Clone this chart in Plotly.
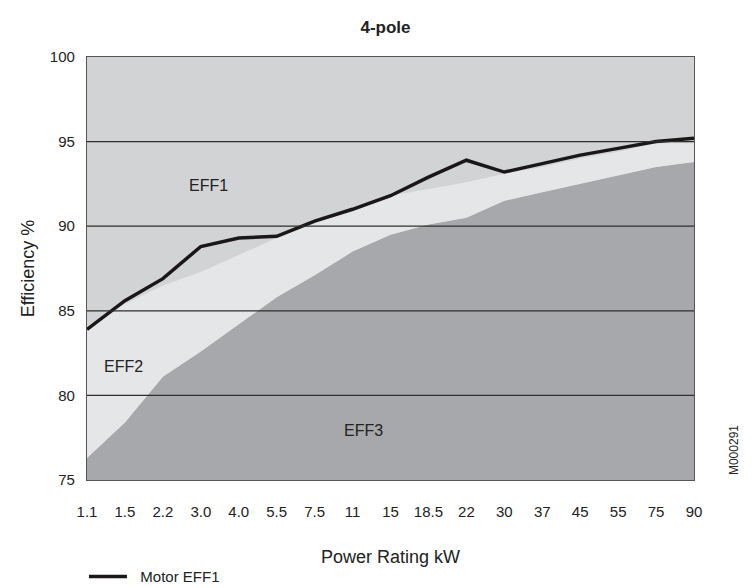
import plotly.graph_objects as go

# IE2-style efficiency bands, 4-pole motors
power_kw = ["1.1", "1.5", "2.2", "3.0", "4.0", "5.5", "7.5", "11", "15",
            "18.5", "22", "30", "37", "45", "55", "75", "90"]

# upper limit of EFF3 band (= lower limit of EFF2)
eff3_top = [76.3, 78.4, 81.1, 82.6, 84.2, 85.8, 87.1, 88.5, 89.5,
            90.1, 90.5, 91.5, 92.0, 92.5, 93.0, 93.5, 93.8]
# upper limit of EFF2 band (= lower limit of EFF1)
eff2_top = [84.1, 85.4, 86.5, 87.3, 88.3, 89.3, 90.2, 90.9, 91.8,
            92.2, 92.6, 93.1, 93.5, 94.0, 94.4, 94.9, 94.9]
# motor EFF1 curve
motor_eff1 = [83.9, 85.6, 86.9, 88.8, 89.3, 89.4, 90.3, 91.0, 91.8,
              92.9, 93.9, 93.2, 93.7, 94.2, 94.6, 95.0, 95.2]

y_ticks = [75, 80, 85, 90, 95, 100]

FONT = "Liberation Sans, Arial, sans-serif"
xs = list(range(len(power_kw)))

fig = go.Figure()
fig.add_trace(go.Scatter(
    x=xs, y=eff3_top, mode="lines", line=dict(width=0),
    fill="tozeroy", fillcolor="#a7a8ab", showlegend=False, hoverinfo="skip",
))
fig.add_trace(go.Scatter(
    x=xs, y=eff2_top, mode="lines", line=dict(width=0),
    fill="tonexty", fillcolor="#e5e6e8", showlegend=False, hoverinfo="skip",
))
fig.add_trace(go.Scatter(
    x=xs, y=motor_eff1, mode="lines", name="\u00a0\u00a0Motor EFF1",
    line=dict(color="#1b1718", width=3.5),
))

# gridlines sit on top of the bands
for v in y_ticks[1:-1]:
    fig.add_hline(y=v, line=dict(color="#2e2e2e", width=1.3), layer="above")

# band labels
for txt, xi, yv in [("EFF1", 3.2, 92.4), ("EFF2", 0.95, 81.7), ("EFF3", 7.3, 77.9)]:
    fig.add_annotation(x=xi, y=yv, text=txt, showarrow=False,
                       font=dict(size=16, color="#222"))

fig.add_annotation(text="M000291", xref="paper", yref="paper", x=1.067, y=0.07,
                   xanchor="center", yanchor="middle",
                   textangle=-90, showarrow=False, font=dict(size=12, color="#222"))

# page body adds an 8px offset, margins compensate
fig.update_layout(
    width=755, height=588,
    margin=dict(l=79, r=69, t=49, b=116, autoexpand=False),
    paper_bgcolor="white", plot_bgcolor="#d2d3d5",
    font=dict(family=FONT, size=15, color="#222"),
    title=dict(text="<b>4-pole</b>", x=0.5, xanchor="center", y=0.968,
               yanchor="middle", font=dict(size=17, color="#222")),
    showlegend=True,
    legend=dict(x=-0.005, y=-0.19, xanchor="left", yanchor="top",
                itemwidth=38, font=dict(size=15), bgcolor="rgba(0,0,0,0)"),
)
fig.update_xaxes(
    range=[0, len(power_kw) - 1], tickvals=xs, ticktext=power_kw,
    showgrid=False, zeroline=False, ticks="", ticklabelstandoff=18,
    showline=True, linecolor="#555", linewidth=1.2, mirror=True,
    title=dict(text="Power Rating kW", standoff=31), layer="above traces",
)
fig.update_yaxes(
    range=[75, 100], tickvals=y_ticks, showgrid=False, zeroline=False,
    ticks="", ticklabelstandoff=8,
    showline=True, linecolor="#555", linewidth=1.2, mirror=True,
    title=dict(text="Efficiency %", standoff=10), layer="above traces",
)

fig.write_html("out.html")
